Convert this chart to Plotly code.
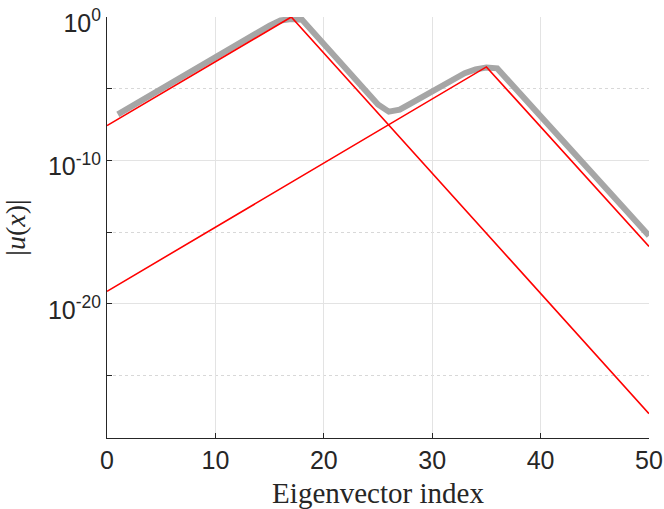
import plotly.graph_objects as go

# ---- data ----
gray_x = list(range(1, 51))
gray_log10 = [-6.78, -6.335, -5.89, -5.445, -5.00, -4.555, -4.11, -3.665, -3.22, -2.775,
              -2.33, -1.885, -1.44, -0.995, -0.60, -0.24, -0.14, -0.20, -1.05, -1.90,
              -2.75, -3.60, -4.45, -5.30, -6.10, -6.60, -6.46, -6.03, -5.60, -5.17,
              -4.74, -4.32, -3.92, -3.65, -3.52, -3.58, -4.41, -5.25, -6.08, -6.92,
              -7.75, -8.58, -9.41, -10.25, -11.08, -11.91, -12.74, -13.58, -14.41, -15.24]

red1_x = [0, 17, 50]
red1_log10 = [-7.57, 0.0, -27.64]
red2_x = [0, 35, 50]
red2_log10 = [-19.12, -3.48, -15.99]

x_ticks = [0, 10, 20, 30, 40, 50]
y_ticks = [1e-20, 1e-10, 1e0]
y_ticktext = ["10<sup>-20</sup>", "10<sup>-10</sup>", "10<sup>0</sup>"]
y_minor = [1e-25, 1e-15, 1e-5]

gray_y = [10 ** v for v in gray_log10]
red1_y = [10 ** v for v in red1_log10]
red2_y = [10 ** v for v in red2_log10]

fig = go.Figure()
fig.add_trace(go.Scatter(x=gray_x, y=gray_y, mode="lines",
                         line=dict(color="#a6a6a6", width=6), showlegend=False))
fig.add_trace(go.Scatter(x=red1_x, y=red1_y, mode="lines",
                         line=dict(color="#ff0000", width=1.6), showlegend=False))
fig.add_trace(go.Scatter(x=red2_x, y=red2_y, mode="lines",
                         line=dict(color="#ff0000", width=1.6), showlegend=False))

axis_col = "#262626"
fig.update_layout(
    width=664, height=509,
    margin=dict(l=107, r=15, t=17, b=71),
    paper_bgcolor="white", plot_bgcolor="white",
    font=dict(family="Liberation Sans, Arial, sans-serif", size=25, color=axis_col),
)
fig.update_xaxes(
    range=[0, 50], tickvals=x_ticks, showgrid=True, gridcolor="#e3e3e3", gridwidth=1,
    zeroline=False, showline=True, linecolor=axis_col, linewidth=1,
    ticks="inside", ticklen=5, tickcolor=axis_col, automargin=False,
    ticklabeloverflow="allow",
    tickfont=dict(size=25, color=axis_col),
    title=dict(text="Eigenvector index",
               font=dict(family="Liberation Serif, Times New Roman, serif", size=29, color=axis_col),
               standoff=15),
)
fig.update_yaxes(
    type="log", range=[-29.34, 0], tickvals=y_ticks, ticktext=y_ticktext,
    showgrid=True, gridcolor="#e3e3e3", gridwidth=1,
    zeroline=False, showline=True, linecolor=axis_col, linewidth=1,
    ticks="inside", ticklen=5, tickcolor=axis_col, automargin=False,
    ticklabeloverflow="allow", ticklabelshift=6,
    tickfont=dict(size=25, color=axis_col),
    minor=dict(tickvals=y_minor, showgrid=True, gridcolor="#d8d8d8", griddash="dot",
               ticks="inside", ticklen=5, tickcolor=axis_col),
    title=dict(text="|<i>u</i>(<i>x</i>)|",
               font=dict(family="Liberation Serif, Times New Roman, serif", size=28, color=axis_col),
               standoff=14),
)

fig.write_html(
    "out.html",
    config={"displayModeBar": False},
    post_script="document.body.style.margin='0';document.body.style.overflow='hidden';",
)
